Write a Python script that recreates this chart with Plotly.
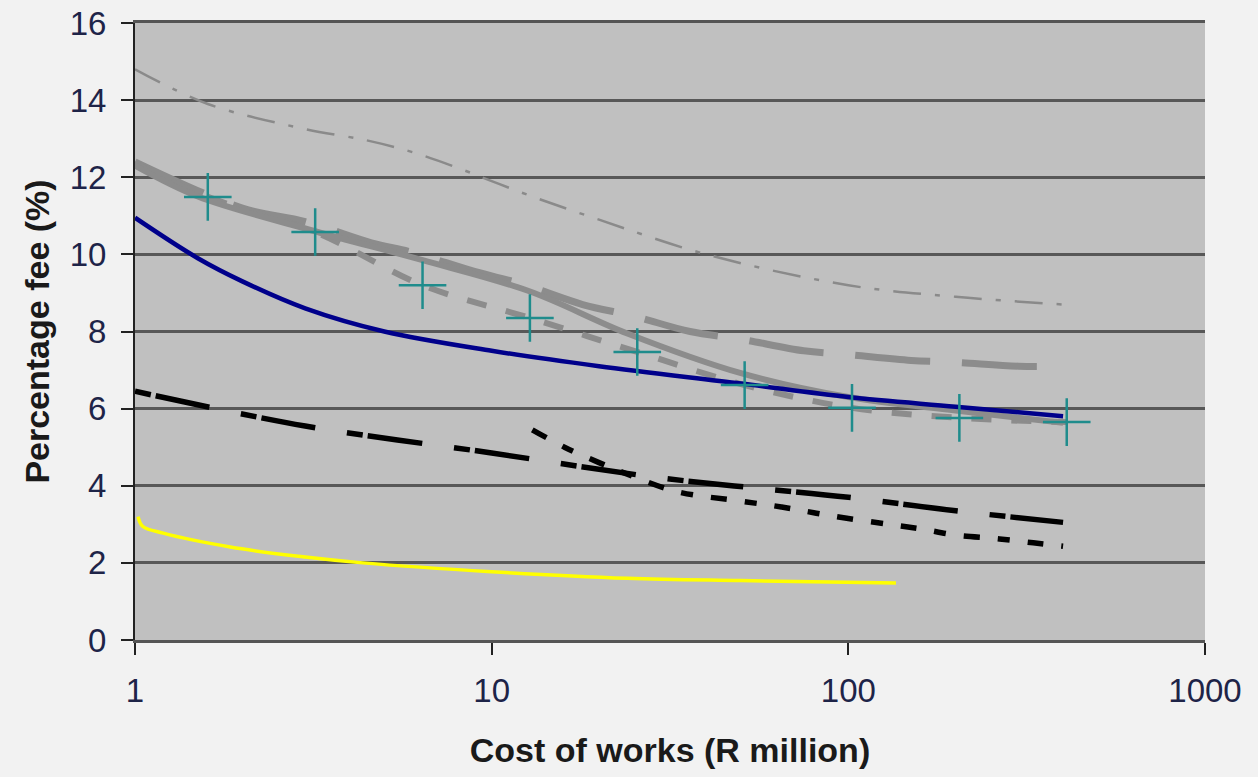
import plotly.graph_objects as go

# Gray dash-dot thin (top)
top_x = [1, 1.6, 3, 4.5, 6, 8, 10, 13, 20, 40, 100, 200, 400]
top_y = [14.8, 13.9, 13.25, 12.95, 12.65, 12.25, 11.9, 11.5, 10.9, 10.0, 9.2, 8.9, 8.7]

# Gray thick solid
gs_x = [1, 1.5, 3.2, 6.4, 12.7, 24, 50, 100, 200, 400]
gs_y = [12.3, 11.5, 10.6, 9.85, 9.05, 7.95, 6.92, 6.3, 5.95, 5.63]

# Gray long dash
gl_x = [1, 2, 3, 4.6, 6, 9, 12, 18, 25, 36, 50, 75, 100, 150, 200, 300, 410]
gl_y = [12.4, 11.2, 10.85, 10.3, 10.05, 9.55, 9.25, 8.7, 8.4, 8.0, 7.8, 7.5, 7.4, 7.25, 7.2, 7.1, 7.1]

# Gray medium dash + teal markers
gm_x = [1, 1.6, 3.2, 6.4, 12.8, 25.6, 51.2, 102.4, 204.8, 409.6]
gm_y = [12.35, 11.49, 10.58, 9.2, 8.35, 7.47, 6.61, 6.02, 5.76, 5.65]

# Blue solid
bl_x = [1, 1.5, 2, 3, 5, 10, 20, 50, 100, 200, 400]
bl_y = [10.95, 9.9, 9.3, 8.6, 8.0, 7.5, 7.1, 6.65, 6.3, 6.05, 5.8]

# Black long dash
bd_x = [1, 3, 10, 30, 100, 200, 400]
bd_y = [6.45, 5.55, 4.85, 4.2, 3.7, 3.35, 3.05]

# Black dash-dot
bdd_x = [13, 16, 20, 24, 33, 50, 65, 80, 100, 130, 160, 200, 260, 330, 400]
bdd_y = [5.45, 5.0, 4.6, 4.3, 3.85, 3.6, 3.45, 3.3, 3.15, 3.0, 2.88, 2.72, 2.63, 2.52, 2.43]

# Yellow
ye_x = [1.02, 1.05, 1.2, 1.85, 3, 4.35, 10, 24, 50, 136]
ye_y = [3.2, 2.95, 2.77, 2.41, 2.15, 2.0, 1.77, 1.6, 1.54, 1.48]

y_ticks = [0, 2, 4, 6, 8, 10, 12, 14, 16]
x_ticks = [1, 10, 100, 1000]

fig = go.Figure()

fig.add_trace(go.Scatter(x=top_x, y=top_y, mode="lines", line=dict(color="#8a8a8a", width=2.5, dash="28px,14px,5px,14px", shape="spline")))
fig.add_trace(go.Scatter(x=gl_x, y=gl_y, mode="lines", line=dict(color="#8c8c8c", width=7, dash="75px,32px", shape="spline")))
fig.add_trace(go.Scatter(x=gm_x, y=gm_y, mode="lines", line=dict(color="#8c8c8c", width=6, dash="20px,20px", shape="spline")))
fig.add_trace(go.Scatter(x=gs_x, y=gs_y, mode="lines", line=dict(color="#8c8c8c", width=6, shape="spline")))
fig.add_trace(go.Scatter(x=bl_x, y=bl_y, mode="lines", line=dict(color="#00008b", width=4.5, shape="spline")))
fig.add_trace(go.Scatter(x=gm_x[1:], y=gm_y[1:], mode="markers",
                         marker=dict(symbol="cross-thin-open", size=34, color="#1f8c8c",
                                     line=dict(color="#1f8c8c", width=2.5))))
fig.add_trace(go.Scatter(x=bd_x, y=bd_y, mode="lines", line=dict(color="#000000", width=5.5, dash="16px,5px,55px,32px", shape="spline")))
fig.add_trace(go.Scatter(x=bdd_x, y=bdd_y, mode="lines", line=dict(color="#000000", width=5.5, dash="16px,18px,12px,18px", shape="spline")))
fig.add_trace(go.Scatter(x=ye_x, y=ye_y, mode="lines", line=dict(color="#ffff00", width=3.5, shape="spline")))

fig.update_layout(
    width=1258, height=777,
    margin=dict(l=135, r=53, t=23, b=137, autoexpand=False),
    paper_bgcolor="#f2f2f2",
    plot_bgcolor="#c0c0c0",
    showlegend=False,
    font=dict(family="Liberation Sans, Arial, sans-serif", color="#1e2448", size=33),
)
fig.update_xaxes(
    type="log", range=[0, 3], tickvals=x_ticks, ticktext=[str(v) for v in x_ticks],
    showgrid=False, zeroline=False, automargin=False,
    ticks="outside", ticklen=12, tickcolor="#222", tickwidth=1.5,
    showline=True, linecolor="#555", linewidth=2.5, mirror=True,
    tickfont=dict(size=33, color="#1e2448"), ticklabelstandoff=8,
    title=dict(text="<b>Cost of works (R million)</b>", font=dict(size=34, color="#1a1a1a"), standoff=30),
)
fig.update_yaxes(
    range=[0, 16], tickvals=y_ticks,
    showgrid=True, gridcolor="#585858", gridwidth=2.5, zeroline=False, automargin=False,
    ticks="outside", ticklen=12, tickcolor="#222", tickwidth=1.5,
    showline=True, linecolor="#222", linewidth=2,
    tickfont=dict(size=33, color="#1e2448"), ticklabelstandoff=8,
    title=dict(text="<b>Percentage fee (%)</b>", font=dict(size=34, color="#1a1a1a"), standoff=10),
)

fig.write_html("out.html", config={"displayModeBar": False},
               post_script="document.body.style.margin='0';document.body.style.overflow='hidden';")
